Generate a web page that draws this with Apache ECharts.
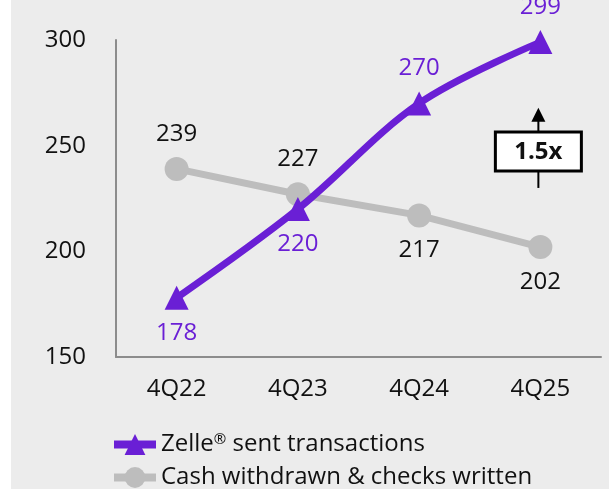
<!DOCTYPE html>
<html>
<head>
<meta charset="utf-8">
<script src="https://cdn.jsdelivr.net/npm/echarts@6/dist/echarts.min.js"></script>
<style>
  html, body { margin: 0; padding: 0; background: #ececec; }
  #main { width: 609px; height: 489px; }
</style>
</head>
<body>
<div id="main"></div>
<script>
var myChart = echarts.init(document.getElementById('main'));

var quarters = ['4Q22', '4Q23', '4Q24', '4Q25'];
var zelleSent = [178, 220, 270, 299];
var cashChecks = [239, 227, 217, 202];
// label side for each point
var zelleLabelPos = ['bottom', 'bottom', 'top', 'top'];
var cashLabelPos = ['top', 'top', 'bottom', 'bottom'];

var FONT = 'Open Sans';
var purple = '#6a1fd5';
var grey = '#bdbdbd';

function withLabels(values, sides, color) {
  return values.map(function (v, i) {
    return {
      value: v,
      label: { position: sides[i], color: color }
    };
  });
}

var option = {
  backgroundColor: '#ececec',
  textStyle: { fontFamily: FONT },
  grid: {
    left: 116,
    right: 8,
    top: 40,
    bottom: 132
  },
  legend: {
    orient: 'vertical',
    left: 110,
    top: 432,
    height: 80,
    padding: 0,
    itemWidth: 42,
    itemHeight: 26,
    itemGap: 9,
    lineStyle: { width: 8 },
    data: ['Zelle® sent transactions', 'Cash withdrawn & checks written'],
    formatter: function (name) {
      return name.replace('®', '{sup|®}');
    },
    textStyle: {
      fontSize: 24,
      color: '#111',
      fontFamily: FONT,
      rich: {
        sup: { fontSize: 15, color: '#111', fontFamily: FONT, padding: [0, 0, 10, 0] }
      }
    }
  },
  xAxis: {
    type: 'category',
    data: quarters,
    axisLine: { lineStyle: { color: '#8c8c8c', width: 2 } },
    axisTick: { show: false },
    axisLabel: { fontSize: 24, color: '#111', margin: 20, fontFamily: FONT }
  },
  yAxis: {
    type: 'value',
    min: 150,
    max: 300,
    interval: 50,
    axisLine: { show: true, lineStyle: { color: '#8c8c8c', width: 2 } },
    axisTick: { show: false },
    splitLine: { show: false },
    axisLabel: { fontSize: 24, color: '#111', margin: 30, fontFamily: FONT }
  },
  series: [
    {
      name: 'Cash withdrawn & checks written',
      type: 'line',
      data: withLabels(cashChecks, cashLabelPos, '#111'),
      symbol: 'circle',
      symbolSize: 24,
      lineStyle: { color: grey, width: 7 },
      itemStyle: { color: grey },
      label: { show: true, fontSize: 24, distance: 11, fontFamily: FONT },
      z: 2
    },
    {
      name: 'Zelle® sent transactions',
      type: 'line',
      data: withLabels(zelleSent, zelleLabelPos, purple),
      smooth: 0.35,
      symbol: 'triangle',
      symbolSize: 24,
      lineStyle: { color: purple, width: 7 },
      itemStyle: { color: purple },
      label: { show: true, fontSize: 24, distance: 11, fontFamily: FONT },
      z: 3
    }
  ]
};

myChart.setOption(option);

// left white strip + "1.5x" growth callout placed with the chart's own scale
var ax = myChart.convertToPixel({ xAxisIndex: 0 }, '4Q25') - 2;
var arrowTop = myChart.convertToPixel({ yAxisIndex: 0 }, 268);
var arrowBot = myChart.convertToPixel({ yAxisIndex: 0 }, 230);
var boxMid = myChart.convertToPixel({ yAxisIndex: 0 }, 247.5);

myChart.setOption({
  graphic: [
    {
      type: 'rect',
      shape: { x: 0, y: 0, width: 11, height: 489 },
      style: { fill: '#ffffff' },
      z: 100
    },
    {
      type: 'line',
      shape: { x1: ax, y1: arrowTop + 12, x2: ax, y2: arrowBot },
      style: { stroke: '#000', lineWidth: 2 },
      z: 100
    },
    {
      type: 'polygon',
      shape: { points: [[ax, arrowTop], [ax - 7, arrowTop + 14], [ax + 7, arrowTop + 14]] },
      style: { fill: '#000' },
      z: 100
    },
    {
      type: 'rect',
      shape: { x: ax - 43, y: boxMid - 19, width: 86, height: 39 },
      style: { fill: '#fff', stroke: '#000', lineWidth: 3 },
      z: 101
    },
    {
      type: 'text',
      x: ax,
      y: boxMid + 1,
      style: {
        text: '1.5x',
        fontSize: 24,
        fontWeight: 'bold',
        fontFamily: FONT,
        fill: '#111',
        align: 'center',
        verticalAlign: 'middle'
      },
      z: 102
    }
  ]
});
</script>
</body>
</html>
